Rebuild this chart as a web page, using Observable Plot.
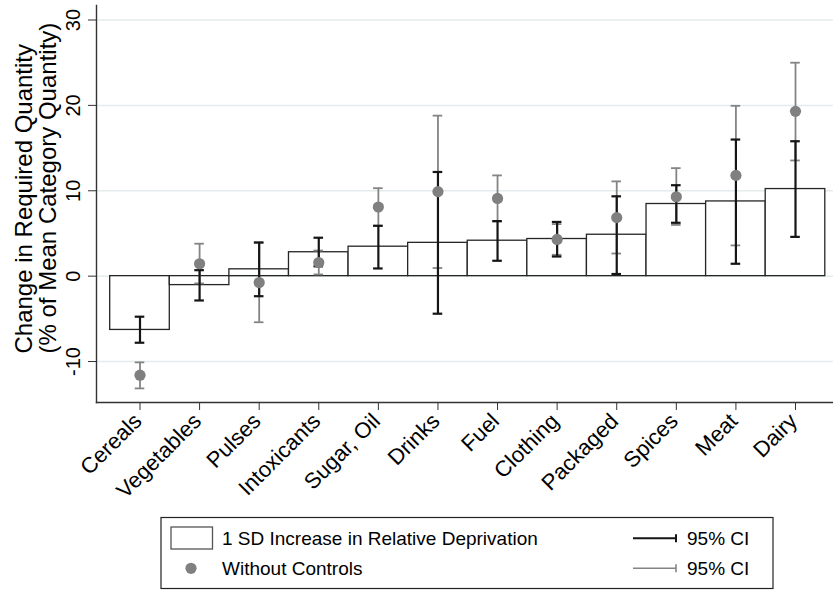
<!DOCTYPE html>
<html>
<head>
<meta charset="utf-8">
<script src="https://cdn.jsdelivr.net/npm/d3@7"></script>
<script src="https://cdn.jsdelivr.net/npm/@observablehq/plot@0.6"></script>
<style>
  body { margin: 0; background: #fff; font-family: "Liberation Sans", Arial, sans-serif; }
  #chart svg { display: block; }
  #legend { display: block; }
</style>
</head>
<body>
<div id="chart"></div>
<svg id="legend" width="833" height="78"></svg>
<script>
const categories = ["Cereals","Vegetables","Pulses","Intoxicants","Sugar, Oil","Drinks","Fuel","Clothing","Packaged","Spices","Meat","Dairy"];
const estimate   = [-6.3, -1.05, 0.8, 2.8, 3.45, 3.9, 4.15, 4.35, 4.85, 8.45, 8.75, 10.2];
const estLow     = [-7.8, -2.85, -2.35, 1.15, 0.9, -4.4, 1.8, 2.3, 0.25, 6.25, 1.45, 4.6];
const estHigh    = [-4.75, 0.7, 3.95, 4.5, 5.9, 12.2, 6.45, 6.35, 9.35, 10.65, 16.0, 15.8];
const noControls     = [-11.6, 1.45, -0.75, 1.6, 8.1, 9.9, 9.1, 4.3, 6.85, 9.3, 11.8, 19.3];
const noControlsLow  = [-13.15, -0.85, -5.4, 0.2, 5.9, 0.95, 6.4, 2.5, 2.65, 6.0, 3.6, 13.55];
const noControlsHigh = [-10.1, 3.8, 3.9, 3.0, 10.3, 18.8, 11.8, 6.1, 11.1, 12.65, 19.95, 25.0];
const yTicks = [-10, 0, 10, 20, 30];
const yTitle1 = "Change in Required Quantity";
const yTitle2 = "(% of Mean Category Quantity)";
const legendBar = "1 SD Increase in Relative Deprivation";
const legendDot = "Without Controls";
const legendCI = "95% CI";

const data = categories.map((c, i) => ({
  cat: c, est: estimate[i], lo: estLow[i], hi: estHigh[i],
  raw: noControls[i], rlo: noControlsLow[i], rhi: noControlsHigh[i]
}));

const black = "#151515", gray = "#848484", font = "Liberation Sans, Arial, sans-serif";

const chart = Plot.plot({
  width: 833,
  height: 512,
  marginLeft: 96,
  marginRight: 0,
  marginTop: 5,
  marginBottom: 110,
  style: { fontFamily: font, fontSize: "20px", color: "#000", background: "#fff" },
  x: { domain: categories, range: [109.7, 824.8], padding: 0, round: false, label: null },
  y: { domain: [-14.8, 31.7], label: null },
  marks: [
    Plot.gridY(yTicks, { stroke: "#e3eced", strokeOpacity: 1, strokeWidth: 1.5 }),
    Plot.barY(data, { x: "cat", y: "est", fill: "white", stroke: "#262626", strokeWidth: 1.3 }),
    Plot.ruleX(data, { x: "cat", y1: "rlo", y2: "rhi", stroke: gray, strokeWidth: 1.8 }),
    Plot.tickY(data, { x: "cat", y: "rlo", stroke: gray, strokeWidth: 1.8, insetLeft: 25, insetRight: 25 }),
    Plot.tickY(data, { x: "cat", y: "rhi", stroke: gray, strokeWidth: 1.8, insetLeft: 25, insetRight: 25 }),
    Plot.ruleX(data, { x: "cat", y1: "lo", y2: "hi", stroke: black, strokeWidth: 2.2 }),
    Plot.tickY(data, { x: "cat", y: "lo", stroke: black, strokeWidth: 2.2, insetLeft: 25, insetRight: 25 }),
    Plot.tickY(data, { x: "cat", y: "hi", stroke: black, strokeWidth: 2.2, insetLeft: 25, insetRight: 25 }),
    Plot.dot(data, { x: "cat", y: "raw", r: 5.6, fill: "#808080", stroke: "none" }),
    Plot.frame({ anchor: "left", stroke: "#333", strokeWidth: 1.4 }),
    Plot.frame({ anchor: "bottom", stroke: "#333", strokeWidth: 1.4 }),
    Plot.axisY({ ticks: yTicks, tickSize: 8, tickFormat: () => "", stroke: "#333" }),
    Plot.text(yTicks, { y: d => d, text: d => String(d), frameAnchor: "left", rotate: -90, textAnchor: "middle", lineAnchor: "middle", dx: -23, fontSize: 20, fill: "#000" }),
    Plot.axisX({ tickSize: 8, tickFormat: () => "", stroke: "#333" }),
    Plot.text(categories, { x: d => d, text: d => d, frameAnchor: "bottom", rotate: -45, textAnchor: "end", lineAnchor: "middle", dx: -2, dy: 15, fontSize: 22, fill: "#000" }),
    Plot.text([yTitle1], { frameAnchor: "bottom-left", rotate: -90, textAnchor: "start", lineAnchor: "bottom", dx: -65, dy: -49, fontSize: 24, fill: "#000" }),
    Plot.text([yTitle2], { frameAnchor: "bottom-left", rotate: -90, textAnchor: "start", lineAnchor: "bottom", dx: -41, dy: -49, fontSize: 24, fill: "#000" })
  ]
});
document.getElementById("chart").appendChild(chart);

// Legend
const lg = d3.select("#legend");
lg.append("rect").attr("x", 161).attr("y", 5.5).attr("width", 612).attr("height", 71)
  .attr("fill", "white").attr("stroke", "#222").attr("stroke-width", 1.2);
lg.append("rect").attr("x", 171).attr("y", 15).attr("width", 41.5).attr("height", 22)
  .attr("fill", "white").attr("stroke", "#555").attr("stroke-width", 1.3);
lg.append("circle").attr("cx", 191).attr("cy", 56.3).attr("r", 5.6).attr("fill", "#808080");
const rows = [[legendBar, 26.3, black, 2], [legendDot, 56.3, gray, 1.6]];
rows.forEach(([label, cy, col, sw]) => {
  lg.append("text").attr("x", 222).attr("y", cy).attr("dy", "0.35em")
    .attr("font-size", 19).attr("font-family", font).attr("fill", "#000").text(label);
  lg.append("line").attr("x1", 633).attr("x2", 676).attr("y1", cy).attr("y2", cy)
    .attr("stroke", col).attr("stroke-width", sw);
  lg.append("line").attr("x1", 676).attr("x2", 676).attr("y1", cy - 4).attr("y2", cy + 4)
    .attr("stroke", col).attr("stroke-width", sw);
  lg.append("text").attr("x", 687).attr("y", cy).attr("dy", "0.35em")
    .attr("font-size", 19).attr("font-family", font).attr("fill", "#000").text(legendCI);
});
</script>
</body>
</html>
